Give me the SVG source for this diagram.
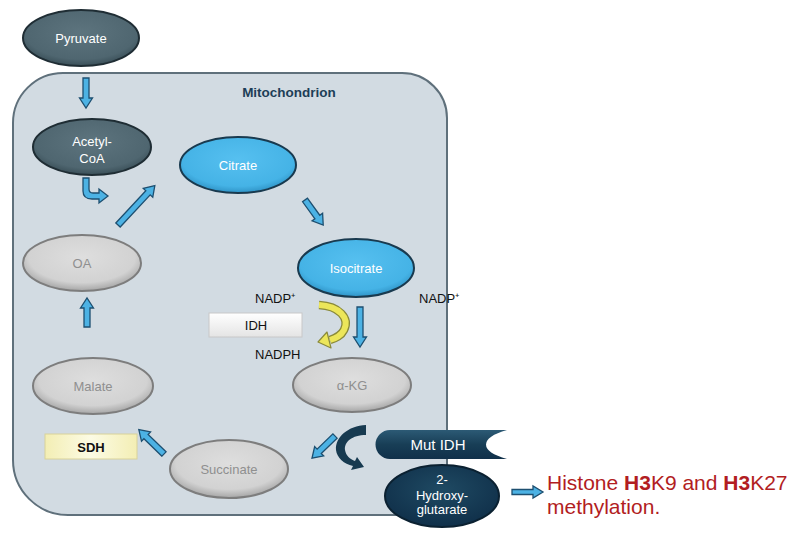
<svg xmlns="http://www.w3.org/2000/svg" width="806" height="552" viewBox="0 0 806 552">
<defs>
<radialGradient id="gGrey" cx="50%" cy="40%" r="60%">
<stop offset="0" stop-color="#dedede"/><stop offset="0.75" stop-color="#d2d2d2"/><stop offset="1" stop-color="#a5a5a5"/>
</radialGradient>
<radialGradient id="gDark" cx="50%" cy="40%" r="60%">
<stop offset="0" stop-color="#5d747e"/><stop offset="0.8" stop-color="#4f6670"/><stop offset="1" stop-color="#3a4f58"/>
</radialGradient>
<radialGradient id="gBlue" cx="50%" cy="40%" r="60%">
<stop offset="0" stop-color="#56c0f0"/><stop offset="0.8" stop-color="#45b3e6"/><stop offset="1" stop-color="#2f93c6"/>
</radialGradient>
<radialGradient id="gNavy" cx="50%" cy="40%" r="60%">
<stop offset="0" stop-color="#1f4a63"/><stop offset="1" stop-color="#10304a"/>
</radialGradient>
<linearGradient id="gMut" x1="0" y1="0" x2="0" y2="1">
<stop offset="0" stop-color="#2c5a75"/><stop offset="0.5" stop-color="#183e56"/><stop offset="1" stop-color="#10304a"/>
</linearGradient>
<linearGradient id="gIdh" x1="0" y1="0" x2="0" y2="1">
<stop offset="0" stop-color="#ffffff"/><stop offset="1" stop-color="#e4e4e4"/>
</linearGradient>
<linearGradient id="gSdh" x1="0" y1="0" x2="1" y2="0">
<stop offset="0" stop-color="#f3eeb4"/><stop offset="0.5" stop-color="#fcfbe4"/><stop offset="1" stop-color="#f3eeb4"/>
</linearGradient>
</defs>
<style>
text{font-family:"Liberation Sans",Arial,sans-serif}
.w{fill:#ffffff;font-size:13px;text-anchor:middle}
.g{fill:#8f8f8f;font-size:13px;text-anchor:middle}
.k{fill:#111111;font-size:13px}
.ba{fill:#4cb2e4;stroke:#1d4f70;stroke-width:1.3;stroke-linejoin:miter}
.grey{fill:url(#gGrey);stroke:#7d7d7d;stroke-width:2}
.dark{fill:url(#gDark);stroke:#1f2d34;stroke-width:2}
.blue{fill:url(#gBlue);stroke:#193a4f;stroke-width:2}
.red{fill:#b21d22;font-size:21px}
</style>

<g id="mitochondrion">
<path d="M63,73 L402,73 A45,45 0 0 1 447,118 L447,470 A45,45 0 0 1 402,515 L68,515 A55,55 0 0 1 13,460 L13,123 A50,50 0 0 1 63,73 Z" fill="#d2dbe2" stroke="#5f707b" stroke-width="2"/>
<text x="289" y="97" fill="#1d3e57" font-size="13.5" font-weight="bold" text-anchor="middle">Mitochondrion</text>
</g>

<g id="connectors">
<path class="ba" transform="translate(86,78) rotate(90)" d="M0,-3 L20,-3 L20,-6.5 L30,0 L20,6.5 L20,3 L0,3 Z"/>
<path class="ba" d="M83,178 L89,178 L89,189 Q89,193 93,193 L99,193 L99,189 L108,196 L99,203 L99,199 L92,199 Q83,199 83,191 Z"/>
<path class="ba" transform="translate(118,225) rotate(-47)" d="M0,-3 L44,-3 L44,-6.5 L54,0 L44,6.5 L44,3 L0,3 Z"/>
<path class="ba" transform="translate(305,200) rotate(54)" d="M0,-3 L21,-3 L21,-6.5 L31,0 L21,6.5 L21,3 L0,3 Z"/>
<path class="ba" transform="translate(360,307) rotate(90)" d="M0,-3 L30,-3 L30,-6.5 L40,0 L30,6.5 L30,3 L0,3 Z"/>
<path class="ba" transform="translate(87,327) rotate(-90)" d="M0,-3 L19,-3 L19,-6.5 L29,0 L19,6.5 L19,3 L0,3 Z"/>
<path class="ba" transform="translate(164,454) rotate(-136)" d="M0,-3 L25,-3 L25,-6.5 L35,0 L25,6.5 L25,3 L0,3 Z"/>
<path class="ba" transform="translate(335,436) rotate(136)" d="M0,-3 L22,-3 L22,-6.5 L32,0 L22,6.5 L22,3 L0,3 Z"/>
<path class="ba" transform="translate(512,492)" d="M0,-2.5 L21,-2.5 L21,-6 L31,0 L21,6 L21,2.5 L0,2.5 Z"/>
<path d="M319,305 C339,306 350,318 344,330 C341,336 336,338 330,340" fill="none" stroke="#8a8a3a" stroke-width="8.5"/>
<path d="M319,305 C339,306 350,318 344,330 C341,336 336,338 330,340" fill="none" stroke="#ece65a" stroke-width="6"/>
<path d="M327,332 L318,342 L331,348 Z" fill="#ece65a" stroke="#8a8a3a" stroke-width="1.2" stroke-linejoin="round"/>
<path d="M366,425 L366,435 C352,435 344,442 345,450 C346,456 350,459 355,461 L357,457 L364,467 L351,470 L353,466 C344,464 337,458 336,450 C335,437 348,426 366,425 Z" fill="#173a50"/>
</g>

<g id="pyruvate">
<ellipse cx="81" cy="38" rx="58" ry="28" class="dark"/>
<text x="81" y="43" class="w">Pyruvate</text>
</g>
<g id="acetylcoa">
<ellipse cx="92" cy="147" rx="59" ry="28" class="dark"/>
<text x="92" y="146" class="w">Acetyl-</text>
<text x="92" y="163" class="w">CoA</text>
</g>
<g id="citrate">
<ellipse cx="238" cy="165" rx="58" ry="28" class="blue"/>
<text x="238" y="170" class="w">Citrate</text>
</g>
<g id="isocitrate">
<ellipse cx="356" cy="268" rx="58" ry="29" class="blue"/>
<text x="356" y="273" class="w">Isocitrate</text>
</g>
<g id="oa">
<ellipse cx="82" cy="263" rx="59" ry="28" class="grey"/>
<text x="82" y="268" class="g">OA</text>
</g>
<g id="malate">
<ellipse cx="93" cy="386" rx="60" ry="28" class="grey"/>
<text x="93" y="391" class="g">Malate</text>
</g>
<g id="akg">
<ellipse cx="352" cy="385" rx="59" ry="27" class="grey"/>
<text x="352" y="390" class="g">α-KG</text>
</g>
<g id="succinate">
<ellipse cx="229" cy="469" rx="59" ry="29" class="grey"/>
<text x="229" y="474" class="g">Succinate</text>
</g>
<g id="idh">
<rect x="209" y="313" width="93" height="24" fill="url(#gIdh)" stroke="#c8c8c8" stroke-width="1"/>
<text x="256" y="330" class="k" text-anchor="middle">IDH</text>
</g>
<g id="sdh">
<rect x="45" y="434" width="92" height="25" fill="url(#gSdh)" stroke="#d8d29a" stroke-width="1"/>
<text x="91" y="452" class="k" font-weight="bold" text-anchor="middle" font-size="12.5">SDH</text>
</g>
<g id="labels">
<text x="255" y="303" class="k">NADP⁺</text>
<text x="419" y="303" class="k">NADP⁺</text>
<text x="255" y="359" class="k">NADPH</text>
</g>
<g id="mutidh">
<path d="M390,430 L507,430 Q486,436 486,444.5 Q486,453 507,459 L390,459 A14.5,14.5 0 0 1 390,430 Z" fill="url(#gMut)"/>
<text x="438" y="450" fill="#ffffff" font-size="15" text-anchor="middle">Mut IDH</text>
</g>
<g id="hydroxyglutarate">
<ellipse cx="442" cy="496" rx="57" ry="31" fill="url(#gNavy)" stroke="#0b2131" stroke-width="2"/>
<text x="442" y="484" class="w" font-size="11.5">2-</text>
<text x="442" y="500" class="w" font-size="11.5">Hydroxy-</text>
<text x="442" y="514" class="w" font-size="11.5">glutarate</text>
</g>
<g id="histone">
<text x="547" y="490" class="red">Histone <tspan font-weight="bold">H3</tspan>K9 and <tspan font-weight="bold">H3</tspan>K27</text>
<text x="547" y="514" class="red">methylation.</text>
</g>
</svg>
